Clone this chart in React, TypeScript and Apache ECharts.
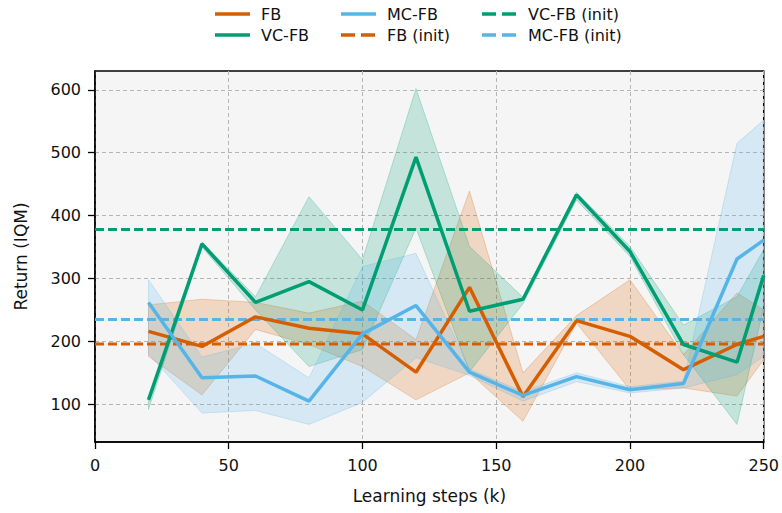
import React, { useEffect, useRef } from "react";
import * as echarts from "echarts";

const steps = [20, 40, 60, 80, 100, 120, 140, 160, 180, 200, 220, 240, 250];

const fbMean = [216, 192, 239, 221, 212, 151, 286, 112, 233, 208, 155, 195, 208];
const fbLow = [176, 115, 219, 195, 160, 107, 150, 73, 229, 123, 126, 113, 171];
const fbHigh = [258, 267, 262, 245, 264, 203, 439, 150, 241, 298, 179, 277, 250];

const vcMean = [107, 355, 262, 295, 250, 493, 248, 267, 433, 343, 195, 167, 305];
const vcLow = [92, 350, 250, 160, 187, 380, 152, 260, 425, 335, 179, 68, 255];
const vcHigh = [110, 358, 271, 430, 330, 602, 351, 270, 437, 351, 226, 271, 346];

const mcMean = [262, 142, 145, 105, 212, 257, 151, 114, 144, 123, 133, 331, 361];
const mcLow = [180, 86, 90, 68, 103, 174, 146, 105, 136, 118, 126, 147, 176];
const mcHigh = [298, 175, 197, 142, 319, 340, 156, 120, 150, 128, 137, 515, 552];

const fbInit = 196;
const vcInit = 378;
const mcInit = 235;

const yTicks = [100, 200, 300, 400, 500, 600];

const C_FB = "#d55e00";
const C_VC = "#009e73";
const C_MC = "#56b4e9";

const FONT = "DejaVu Sans";

// legend entries: [label, color, dashed]
const legendCols: [string, string, boolean][][] = [
  [
    ["FB", C_FB, false],
    ["VC-FB", C_VC, false],
  ],
  [
    ["MC-FB", C_MC, false],
    ["FB (init)", C_FB, true],
  ],
  [
    ["VC-FB (init)", C_VC, true],
    ["MC-FB (init)", C_MC, true],
  ],
];

function rgba(hex: string, a: number) {
  const n = parseInt(hex.slice(1), 16);
  return `rgba(${(n >> 16) & 255},${(n >> 8) & 255},${n & 255},${a})`;
}

function band(name: string, color: string, low: number[], high: number[]) {
  return {
    type: "custom",
    name: name + "_band",
    clip: true,
    z: 1,
    silent: true,
    data: steps.map((s, i) => [s, low[i], high[i]]),
    encode: { x: 0, y: [1, 2] },
    renderItem: (params: any, api: any) => {
      if (params.dataIndex !== 0) return null;
      const pts: number[][] = [];
      for (let i = 0; i < steps.length; i++) pts.push(api.coord([steps[i], high[i]]));
      for (let i = steps.length - 1; i >= 0; i--) pts.push(api.coord([steps[i], low[i]]));
      return {
        type: "polygon",
        shape: { points: pts },
        style: { fill: rgba(color, 0.2), stroke: rgba(color, 0.25), lineWidth: 1 },
      };
    },
  };
}

function meanLine(name: string, color: string, vals: number[]) {
  return {
    type: "line",
    name,
    data: steps.map((s, i) => [s, vals[i]]),
    showSymbol: false,
    symbol: "none",
    z: 3,
    lineStyle: { color, width: 3.5 },
    itemStyle: { color },
  };
}

function initLine(name: string, color: string, v: number) {
  return {
    type: "line",
    name,
    data: [
      [0, v],
      [250, v],
    ],
    showSymbol: false,
    symbol: "none",
    z: 2,
    lineStyle: { color, width: 3, type: [9, 4] },
    itemStyle: { color },
  };
}

function legendGraphics() {
  const colX = [215, 341, 482];
  const rowY = [14, 35];
  const els: any[] = [];
  legendCols.forEach((col, ci) => {
    col.forEach(([label, color, dashed], ri) => {
      const x = colX[ci];
      const y = rowY[ri];
      els.push({
        type: "line",
        shape: { x1: x, y1: y, x2: x + 35, y2: y },
        style: { stroke: color, lineWidth: 3.5, lineDash: dashed ? [14, 6] : null },
      });
      els.push({
        type: "text",
        x: x + 46,
        y,
        style: {
          text: label,
          fill: "#111",
          font: `16px "${FONT}"`,
          verticalAlign: "middle",
          align: "left",
        },
      });
    });
  });
  return els;
}

export default function App() {
  const ref = useRef<HTMLDivElement>(null);
  useEffect(() => {
    if (!ref.current) return;
    const chart = echarts.init(ref.current, undefined, { renderer: "svg" });
    chart.setOption({
      animation: false,
      backgroundColor: "#ffffff",
      graphic: legendGraphics(),
      grid: {
        left: 95,
        right: 16,
        top: 71,
        bottom: 71,
        show: true,
        backgroundColor: "#f5f5f5",
        borderColor: "#000",
        borderWidth: 1.5,
      },
      xAxis: {
        type: "value",
        min: 0,
        max: 250,
        interval: 50,
        name: "Learning steps (k)",
        nameLocation: "middle",
        nameGap: 45,
        nameTextStyle: { fontFamily: FONT, fontSize: 17, color: "#111" },
        axisLine: { show: true, onZero: false, lineStyle: { color: "#000", width: 1.5 } },
        axisTick: { show: true, length: 7, lineStyle: { color: "#000", width: 1.3 } },
        axisLabel: { fontFamily: FONT, fontSize: 16, color: "#111", margin: 15 },
        splitLine: { show: true, lineStyle: { color: "#b5b5b5", width: 1, type: [4, 3] } },
      },
      yAxis: {
        type: "value",
        min: 40,
        max: 630,
        name: "Return (IQM)",
        nameLocation: "middle",
        nameGap: 66,
        nameTextStyle: { fontFamily: FONT, fontSize: 17, color: "#111" },
        axisLine: { show: true, lineStyle: { color: "#000", width: 1.5 } },
        axisTick: { show: true, length: 7, customValues: yTicks, lineStyle: { color: "#000", width: 1.3 } },
        axisLabel: { fontFamily: FONT, fontSize: 16, color: "#111", margin: 14, customValues: yTicks },
        splitLine: { show: true, lineStyle: { color: "#b5b5b5", width: 1, type: [4, 3] } },
      },
      series: [
        band("FB", C_FB, fbLow, fbHigh),
        band("VC-FB", C_VC, vcLow, vcHigh),
        band("MC-FB", C_MC, mcLow, mcHigh),
        meanLine("FB", C_FB, fbMean),
        meanLine("VC-FB", C_VC, vcMean),
        meanLine("MC-FB", C_MC, mcMean),
        initLine("FB (init)", C_FB, fbInit),
        initLine("VC-FB (init)", C_VC, vcInit),
        initLine("MC-FB (init)", C_MC, mcInit),
      ],
    });
    return () => chart.dispose();
  }, []);
  return (
    <div
      ref={ref}
      style={{ position: "fixed", left: 0, top: 0, width: 782, height: 513 }}
    />
  );
}
